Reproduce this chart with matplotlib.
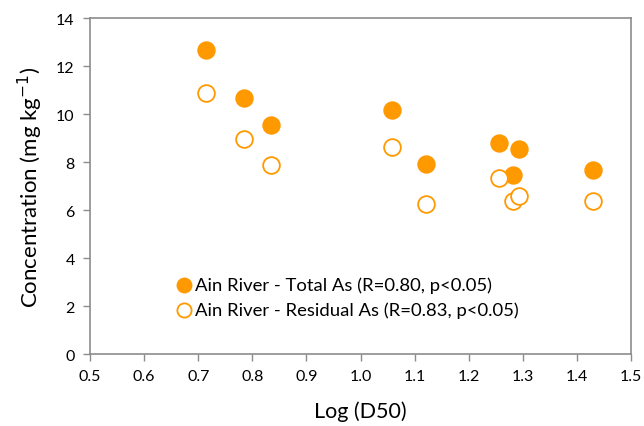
import matplotlib.pyplot as plt

# values
log_d50 = [0.714, 0.785, 0.835, 1.058, 1.121, 1.255, 1.281, 1.293, 1.430]
total_as = [12.68, 10.65, 9.54, 10.17, 7.92, 8.78, 7.46, 8.54, 7.65]
residual_as = [10.86, 8.96, 7.88, 8.64, 6.26, 7.35, 6.39, 6.57, 6.39]

x_ticks = [0.5, 0.6, 0.7, 0.8, 0.9, 1.0, 1.1, 1.2, 1.3, 1.4, 1.5]
y_ticks = [0, 2, 4, 6, 8, 10, 12, 14]

orange = '#FF9900'
grey = '#8c8c8c'

plt.rcParams['font.family'] = ['Lato', 'DejaVu Sans']

fig = plt.figure(figsize=(6.44, 4.27), dpi=100)
ax = fig.add_axes([0.1398, 0.1686, 0.8402, 0.7869])

ax.scatter(log_d50, total_as, s=145, color=orange, edgecolors=orange,
           linewidths=1.2, label='Ain River - Total As (R=0.80, p<0.05)', zorder=3)
ax.scatter(log_d50, residual_as, s=145, facecolors='white', edgecolors=orange,
           linewidths=1.3, label='Ain River - Residual As (R=0.83, p<0.05)', zorder=3)

ax.set_xlim(0.5, 1.5)
ax.set_ylim(0, 14)
ax.set_xticks(x_ticks)
ax.set_xticklabels([f'{t:.1f}' for t in x_ticks])
ax.set_yticks(y_ticks)
ax.tick_params(direction='out', length=5, width=1, color=grey, labelsize=11.5, pad=6)

for s in ax.spines.values():
    s.set_color(grey)
    s.set_linewidth(1.2)

ax.set_xlabel('Log (D50)', fontsize=15.5, labelpad=12)
ax.set_ylabel('Concentration (mg kg$^{-1}$)', fontsize=16, labelpad=8)

ax.legend(loc='lower left', bbox_to_anchor=(0.142, 0.085), frameon=False,
          fontsize=13.3, handletextpad=0.05, labelspacing=0.45, borderaxespad=0,
          handlelength=1.1, markerscale=0.85)

fig.savefig('out.png', dpi=100)
